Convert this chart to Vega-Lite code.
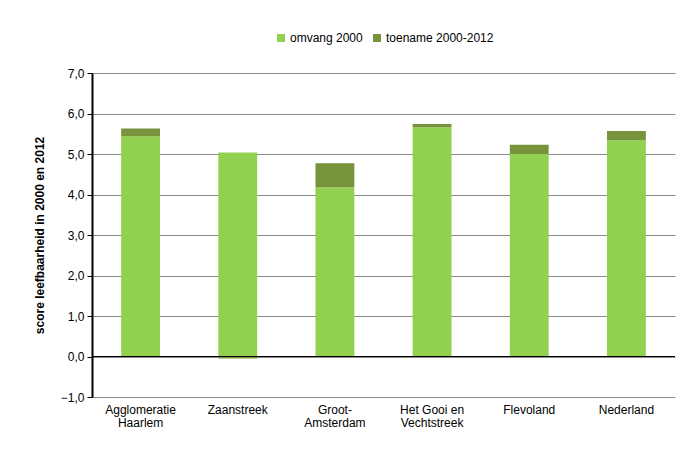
{
  "$schema": "https://vega.github.io/schema/vega-lite/v6.json",
  "width": 583,
  "height": 324,
  "autosize": {"type": "none"},
  "padding": {"left": 92, "top": 73, "right": 6, "bottom": 58},
  "config": {
    "font": "Liberation Sans",
    "view": {"stroke": null},
    "locale": {"number": {"decimal": ",", "thousands": ".", "grouping": [3], "currency": ["€", ""]}}
  },
  "data": {
    "values": [
      {"regio": "Agglomeratie Haarlem", "reeks": "omvang 2000", "score": 5.44},
      {"regio": "Agglomeratie Haarlem", "reeks": "toename 2000-2012", "score": 0.19},
      {"regio": "Zaanstreek", "reeks": "omvang 2000", "score": 5.04},
      {"regio": "Zaanstreek", "reeks": "toename 2000-2012", "score": -0.05},
      {"regio": "Groot-Amsterdam", "reeks": "omvang 2000", "score": 4.18},
      {"regio": "Groot-Amsterdam", "reeks": "toename 2000-2012", "score": 0.59},
      {"regio": "Het Gooi en Vechtstreek", "reeks": "omvang 2000", "score": 5.66},
      {"regio": "Het Gooi en Vechtstreek", "reeks": "toename 2000-2012", "score": 0.08},
      {"regio": "Flevoland", "reeks": "omvang 2000", "score": 5.0},
      {"regio": "Flevoland", "reeks": "toename 2000-2012", "score": 0.23},
      {"regio": "Nederland", "reeks": "omvang 2000", "score": 5.34},
      {"regio": "Nederland", "reeks": "toename 2000-2012", "score": 0.23}
    ]
  },
  "layer": [
    {
      "mark": {"type": "bar"},
      "encoding": {
        "x": {
          "field": "regio",
          "type": "nominal",
          "sort": null,
          "scale": {"paddingInner": 0.6, "paddingOuter": 0.3},
          "axis": {
            "title": null,
            "orient": "bottom",
            "domain": false,
            "ticks": false,
            "grid": false,
            "labelAngle": 0,
            "labelPadding": 7,
            "labelFontSize": 12,
            "labelColor": "#000000",
            "labelLineHeight": 13,
            "labelExpr": "datum.value == 'Agglomeratie Haarlem' ? ['Agglomeratie', 'Haarlem'] : datum.value == 'Groot-Amsterdam' ? ['Groot-', 'Amsterdam'] : datum.value == 'Het Gooi en Vechtstreek' ? ['Het Gooi en', 'Vechtstreek'] : datum.value"
          }
        },
        "y": {
          "field": "score",
          "type": "quantitative",
          "stack": "zero",
          "scale": {"domain": [-1, 7], "nice": false},
          "axis": {
            "title": "score leefbaarheid in 2000 en 2012",
            "titleFontSize": 12,
            "titleFontWeight": "bold",
            "titleColor": "#000000",
            "titlePadding": 14,
            "values": [-1, 0, 1, 2, 3, 4, 5, 6, 7],
            "format": ".1f",
            "labelFontSize": 12,
            "labelColor": "#000000",
            "labelPadding": 3,
            "domainColor": "#000000",
            "domainWidth": 2,
            "tickColor": "#000000",
            "tickSize": 5,
            "grid": true,
            "gridColor": "#8a8a8a",
            "gridWidth": 1
          }
        },
        "order": {"field": "reeks", "type": "nominal", "sort": "ascending"},
        "color": {
          "field": "reeks",
          "type": "nominal",
          "scale": {"domain": ["omvang 2000", "toename 2000-2012"], "range": ["#92D050", "#77933C"]},
          "legend": {
            "title": null,
            "orient": "none",
            "legendX": 183,
            "legendY": -41,
            "direction": "horizontal",
            "padding": 0,
            "symbolType": "square",
            "symbolSize": 64,
            "symbolStrokeWidth": 0,
            "labelFontSize": 12,
            "labelColor": "#000000",
            "labelOffset": 3,
            "columnPadding": 8
          }
        }
      }
    },
    {
      "mark": {"type": "rule", "color": "#000000", "strokeWidth": 1.2},
      "encoding": {"y": {"datum": 0}}
    }
  ]
}
